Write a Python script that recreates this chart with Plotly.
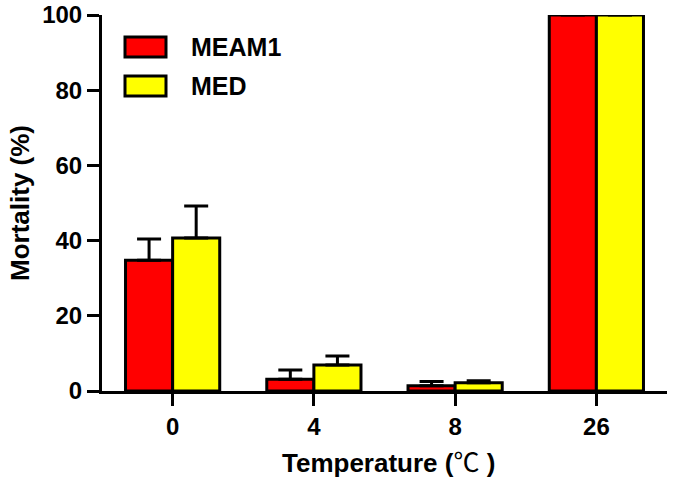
import plotly.graph_objects as go

categories = ["0", "4", "8", "26"]
meam1 = [34.8, 3.1, 1.4, 100]
meam1_err = [5.6, 2.5, 1.1, 0]
med = [40.7, 6.9, 2.2, 100]
med_err = [8.5, 2.4, 0.5, 0]
series_names = ["MEAM1", "MED"]
y_ticks = [0, 20, 40, 60, 80, 100]

FONT = "Liberation Sans, Arial, DejaVu Sans, Noto Sans CJK SC"
L, R, T, B = 102, 8, 15, 93
W, H = 675, 484
pw, ph = W - L - R, H - T - B

def px2x(px):
    return (px - L) / pw

def px2y(py):
    return (H - B - py) / ph

fig = go.Figure()
for name, vals, errs, col in [(series_names[0], meam1, meam1_err, "#FF0000"),
                              (series_names[1], med, med_err, "#FFFF00")]:
    fig.add_trace(go.Bar(
        x=categories, y=vals, name=name, cliponaxis=False,
        marker=dict(color=col, line=dict(color="black", width=3)),
        error_y=dict(type="data", symmetric=False, array=errs,
                     arrayminus=[0] * len(errs), color="black",
                     thickness=3, width=12),
        showlegend=False,
    ))

# legend drawn as boxes + text
shapes = []
annots = []
for i, (name, col) in enumerate(zip(series_names, ["#FF0000", "#FFFF00"])):
    top = 37 + i * 39
    shapes.append(dict(type="rect", xref="paper", yref="paper",
                       x0=px2x(125), x1=px2x(166), y0=px2y(top + 20), y1=px2y(top),
                       fillcolor=col, line=dict(color="black", width=3), layer="above"))
    annots.append(dict(text=f"<b>{name}</b>", xref="paper", yref="paper",
                       x=px2x(189), y=px2y(top + 10), xanchor="left", yanchor="middle",
                       showarrow=False, font=dict(family=FONT, size=25, color="black")))

annots.append(dict(text="<b>Mortality (%)</b>", xref="paper", yref="paper",
                   x=px2x(20), y=0.5, xanchor="center", yanchor="middle", textangle=-90,
                   showarrow=False, font=dict(family=FONT, size=26, color="black")))
annots.append(dict(text="<b>Temperature (</b><span style='font-family:Noto Sans CJK SC;font-weight:normal'>℃</span><b> )</b>",
                   xref="paper", yref="paper",
                   x=px2x(388), y=px2y(460), xanchor="center", yanchor="middle",
                   showarrow=False, font=dict(family=FONT, size=26, color="black")))

fig.update_layout(
    width=W, height=H,
    margin=dict(l=L, r=R, t=T, b=B, pad=0, autoexpand=False),
    paper_bgcolor="white", plot_bgcolor="white",
    barmode="group", bargap=0.333, bargroupgap=0,
    shapes=shapes, annotations=annots,
    xaxis=dict(type="category", range=[-0.5, 3.5], showline=True, linecolor="black",
               linewidth=3, ticks="outside", ticklen=12, tickwidth=3, tickcolor="black",
               showgrid=False, zeroline=False, automargin=False,
               tickvals=categories, ticktext=[f"<b>{c}</b>" for c in categories],
               tickfont=dict(family=FONT, size=24, color="black")),
    yaxis=dict(range=[0, 100], tickvals=y_ticks,
               ticktext=[f"<b>{v}</b>" for v in y_ticks],
               showline=True, linecolor="black", linewidth=3,
               ticks="outside", ticklen=12, tickwidth=3, tickcolor="black",
               showgrid=False, zeroline=False, automargin=False,
               tickfont=dict(family=FONT, size=24, color="black")),
)
fig.write_html("out.html", config={"displayModeBar": False},
               post_script="document.body.style.margin='0';")
